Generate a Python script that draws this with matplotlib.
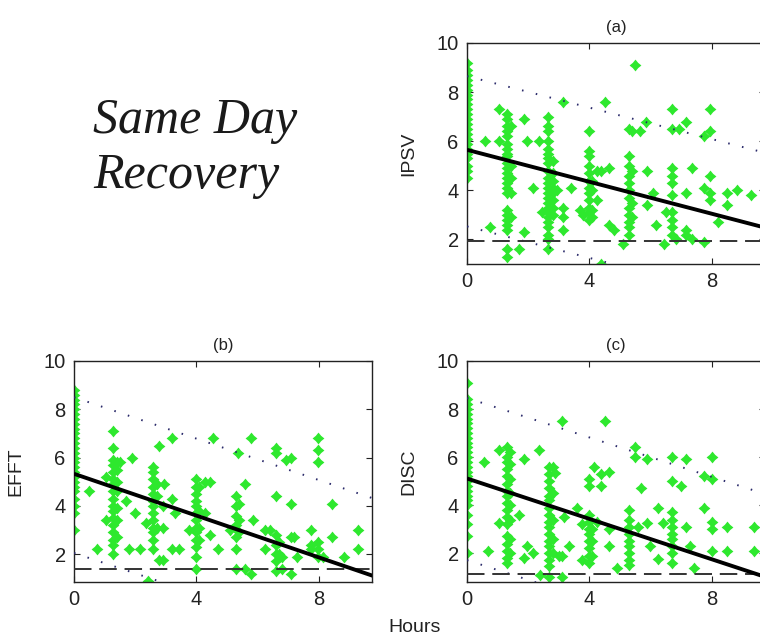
import matplotlib
matplotlib.use("Agg")
import matplotlib.pyplot as plt
from matplotlib.path import Path
import numpy as np

plt.rcParams['font.family'] = ['Liberation Sans Narrow', 'Liberation Sans', 'DejaVu Sans']

# ---------------- data (hours -> scores) ----------------
ipsv_cols = [
    (0.0, [9.2, 8.9, 8.7, 8.5, 8.3, 8.1, 7.9, 7.7, 7.5, 7.3, 7.1, 6.9, 6.7, 6.5, 6.3,
           6.1, 5.9, 5.7, 5.5, 5.3, 5.0, 4.8, 4.5]),
    (0.6, [6.0]), (0.75, [2.5]), (1.05, [7.3, 6.0]),
    (1.3, [7.1, 6.9, 6.6, 6.4, 6.2, 5.9, 5.7, 5.5, 5.4, 5.1, 4.9, 4.7, 4.5, 4.3, 4.1,
           3.9, 3.2, 3.0, 2.8, 2.6, 2.4, 1.6, 1.3]),
    (1.45, [6.6, 5.0, 4.5, 3.9, 2.9]), (1.7, [1.6]), (1.85, [6.9, 2.3]), (1.95, [6.0]),
    (2.15, [4.1]), (2.35, [6.0]), (2.45, [3.1]),
    (2.65, [7.0, 6.6, 6.4, 6.0, 5.7, 5.5, 5.3, 5.1, 4.8, 4.5, 4.3, 4.1, 3.9, 3.7, 3.5,
            3.3, 3.1, 2.9, 2.7, 2.5, 2.2, 2.0, 1.6]),
    (2.8, [5.2, 4.7, 4.4, 4.1, 3.9, 3.6, 3.3, 3.0]), (2.95, [4.0]),
    (3.15, [7.6, 3.3, 2.9, 2.4]), (3.4, [4.1]), (3.7, [3.2]), (3.8, [3.0]),
    (3.98, [6.4, 5.6, 5.4, 5.0, 4.7, 4.4, 4.1, 3.9, 3.6, 3.3, 3.1, 2.8]),
    (4.1, [4.4, 4.0, 3.2, 2.9]), (4.25, [4.8, 3.6]), (4.4, [4.8, 1.0]), (4.5, [7.6]),
    (4.65, [4.9, 2.6]), (4.8, [2.4]), (5.1, [1.8]),
    (5.3, [6.5, 5.4, 5.0, 4.6, 4.3, 4.0, 3.7, 3.3, 3.0, 2.7, 2.5, 2.2]),
    (5.4, [6.4, 4.8, 3.5, 2.9]), (5.5, [9.1]), (5.65, [6.4]), (5.85, [6.8]),
    (5.9, [4.8, 3.4]), (6.1, [3.9]), (6.2, [2.6]), (6.45, [1.8]), (6.5, [3.1]),
    (6.7, [7.3, 6.5, 4.9, 4.6, 4.3, 3.8, 3.1, 2.8, 2.5, 2.2]), (6.85, [2.0]),
    (6.95, [6.5]), (7.15, [6.8, 3.9, 2.4, 2.2]), (7.35, [4.9, 2.0]),
    (7.75, [6.2, 4.1, 1.9]), (7.95, [7.3, 6.4, 4.6, 3.9, 3.6]), (8.2, [2.7]),
    (8.5, [3.9, 3.4]), (8.85, [4.0]), (9.3, [3.8]),
]

efft_cols = [
    (0.0, [8.8, 8.6, 8.4, 8.2, 8.0, 7.8, 7.6, 7.4, 7.2, 7.0, 6.8, 6.6, 6.4, 6.2, 6.0,
           5.8, 5.6, 5.4, 5.2, 5.0, 4.8, 4.6, 4.3, 4.0, 3.7, 3.0]),
    (0.5, [4.6]), (0.75, [2.2]), (1.05, [5.2, 3.4]),
    (1.28, [7.1, 6.4, 5.9, 5.7, 5.4, 5.1, 4.9, 4.6, 4.3, 4.0, 3.8, 3.5, 3.2, 2.9, 2.6,
            2.4, 2.0]),
    (1.4, [5.8, 5.5, 5.0, 4.6, 3.9, 3.4, 2.7]), (1.5, [5.8]), (1.7, [4.2]),
    (1.8, [2.2]), (1.9, [6.0]), (2.0, [3.7]), (2.15, [2.2]), (2.35, [3.3]), (2.43, [0.9]),
    (2.6, [5.6, 5.4, 5.1, 4.8, 4.5, 4.2, 4.0, 3.7, 3.4, 3.1, 2.9, 2.6, 2.2]),
    (2.7, [4.9, 4.4, 3.1]), (2.78, [6.5, 1.75]), (2.9, [4.0, 3.1, 1.75]), (2.95, [4.9]),
    (3.2, [6.8, 4.3, 2.2]), (3.3, [3.7]), (3.45, [2.2]), (3.75, [3.0]),
    (3.98, [5.1, 4.8, 4.5, 4.2, 4.0, 3.7, 3.4, 3.1, 2.9, 2.6, 2.3, 1.9, 1.4]),
    (4.1, [4.8, 3.8, 3.1, 2.6]), (4.3, [5.0, 3.7]), (4.45, [5.0, 2.8]), (4.55, [6.8]),
    (4.7, [2.2]), (5.1, [3.0]), (5.3, [4.4, 4.0, 3.6, 3.2, 2.7, 2.2, 1.4]),
    (5.35, [6.2]), (5.4, [4.1, 3.4, 2.9]), (5.6, [4.9, 1.4]), (5.8, [6.8, 1.2]),
    (5.85, [3.4]), (6.25, [3.0, 2.2]), (6.4, [3.0]),
    (6.6, [6.4, 6.2, 4.4, 2.8, 2.4, 2.0, 1.7, 1.3]), (6.7, [2.5, 2.0]),
    (6.8, [1.9, 1.4]), (6.95, [5.9]), (7.1, [6.0, 4.1, 2.7, 1.2]), (7.2, [2.7]),
    (7.3, [1.9]), (7.75, [3.0, 2.4, 2.2]), (7.98, [6.8, 6.3, 5.8, 2.5, 2.2, 1.9]),
    (8.15, [1.9]), (8.45, [4.1, 2.7]), (8.85, [1.9]), (9.3, [3.0, 2.2]),
]

disc_cols = [
    (0.0, [9.1, 8.4, 8.2, 8.0, 7.8, 7.6, 7.4, 7.2, 7.0, 6.8, 6.6, 6.4, 6.2, 6.0, 5.8,
           5.6, 5.4, 5.2, 5.0, 4.8, 4.6, 4.4, 4.2, 4.0, 3.6, 3.2, 2.7, 2.0]),
    (0.55, [5.8]), (0.7, [2.1]), (1.05, [6.3, 3.25]),
    (1.3, [6.4, 6.0, 5.8, 5.5, 5.2, 4.9, 4.6, 4.4, 4.1, 3.8, 3.5, 3.2, 2.7, 2.4, 2.1,
           1.8, 1.6]),
    (1.4, [6.2, 5.7, 5.1, 4.5, 4.0, 3.4, 2.6, 2.0]), (1.7, [3.6]), (1.85, [5.9, 1.8]),
    (1.95, [2.3]), (2.15, [2.0]), (2.35, [6.3]), (2.4, [1.1]),
    (2.68, [5.6, 5.3, 5.0, 4.7, 4.4, 4.2, 3.9, 3.6, 3.3, 3.1, 2.8, 2.5, 2.3, 2.0, 1.7,
            1.45, 1.0]),
    (2.8, [5.6, 4.5, 3.4, 2.6, 2.0]), (2.87, [5.35]), (3.0, [1.9]),
    (3.12, [7.5, 1.9, 1.0]), (3.17, [3.5]), (3.35, [2.3]), (3.6, [3.9]), (3.77, [3.2, 1.7]),
    (3.98, [5.1, 4.8, 3.6, 3.3, 3.0, 2.8, 2.5, 2.2, 1.9, 1.6]),
    (4.1, [3.0, 2.5, 1.9]), (4.17, [5.6]), (4.25, [3.3]), (4.37, [5.3, 4.8]), (4.51, [7.5]),
    (4.65, [5.4, 3.0, 2.3]), (4.9, [1.4]),
    (5.3, [3.8, 3.4, 3.1, 2.8, 2.5, 2.3, 2.0, 1.7, 1.5]),
    (5.5, [6.4, 6.0]), (5.6, [3.1]), (5.7, [4.7]), (5.9, [5.9, 3.25]), (6.0, [2.3]),
    (6.25, [3.9, 1.75]), (6.4, [3.25]),
    (6.72, [6.0, 5.0, 3.7, 3.4, 3.1, 2.8, 2.6, 2.3, 2.0, 1.6]),
    (7.0, [4.8]), (7.16, [5.9, 3.1]), (7.3, [2.3]), (7.43, [1.4]), (7.76, [5.2, 3.9]),
    (8.0, [6.0, 5.1, 3.3, 3.0, 2.1]), (8.5, [3.1, 2.1]), (9.4, [3.1, 2.1]),
]

# fitted line, prediction band (upper, lower) and threshold: value at 0 h and at 10 h
ipsv_fit = [5.65, 2.40]
ipsv_upper = [8.65, 5.45]
ipsv_lower = [2.53, -0.67]
ipsv_threshold = 1.95

efft_fit = [5.33, 1.01]
efft_upper = [8.50, 4.22]
efft_lower = [2.05, -2.15]
efft_threshold = 1.38

disc_fit = [5.11, 0.91]
disc_upper = [8.46, 4.36]
disc_lower = [1.71, -2.39]
disc_threshold = 1.15

panel_titles = ['(a)', '(b)', '(c)']
panel_ylabels = ['IPSV', 'EFFT', 'DISC']
x_ticks = [0, 4, 8]
y_ticks = [2, 4, 6, 8, 10]
line_hours = [0, 10]

# ---------------- drawing ----------------
W, H = 760, 644
fig = plt.figure(figsize=(W / 100, H / 100), dpi=100)

def frac(l, t, r, b):
    return [l / W, 1 - b / H, (r - l) / W, (b - t) / H]

positions = [frac(467, 43, 765, 264), frac(74, 361, 372, 582), frac(467, 361, 765, 582)]
ylims = [(1.0, 10), (0.85, 10), (0.8, 10)]

star = Path([(0, 1), (0.45, 0.45), (1, 0), (0.45, -0.45), (0, -1), (-0.45, -0.45),
             (-1, 0), (-0.45, 0.45), (0, 1)], closed=True)

panels = [
    (ipsv_cols, ipsv_fit, ipsv_upper, ipsv_lower, ipsv_threshold),
    (efft_cols, efft_fit, efft_upper, efft_lower, efft_threshold),
    (disc_cols, disc_fit, disc_upper, disc_lower, disc_threshold),
]

for i, (cols, fit, up, lo, thr) in enumerate(panels):
    ax = fig.add_axes(positions[i])
    xs = np.concatenate([[h] * len(v) for h, v in cols])
    ys = np.concatenate([v for h, v in cols])
    ax.plot(xs, ys, linestyle='none', marker=star, markersize=8.5,
            color='#2ee82e', markeredgewidth=0, zorder=2)
    ax.plot(line_hours, fit, color='black', lw=2.8, zorder=4, solid_capstyle='butt')
    ax.plot(line_hours, up, color='#2a2a6a', lw=1.4, linestyle=(0, (0.8, 6.5)), zorder=3)
    ax.plot(line_hours, lo, color='#2a2a6a', lw=1.4, linestyle=(0, (0.8, 6.5)), zorder=3)
    ax.plot(line_hours, [thr, thr], color='#333333', lw=1.4, linestyle=(0, (9, 4)), zorder=3)
    ax.set_xlim(0, 9.75)
    ax.set_ylim(*ylims[i])
    ax.set_xticks(x_ticks)
    ax.set_yticks(y_ticks)
    ax.tick_params(direction='in', top=True, right=True, length=4, width=0.8,
                   labelsize=14.5, pad=6, colors='#222222', labelcolor='#222222')
    for s in ax.spines.values():
        s.set_linewidth(1.0)
        s.set_color('#222222')
    ax.set_title(panel_titles[i], fontsize=12, pad=8, color='#222222')
    ax.set_ylabel(panel_ylabels[i], fontsize=14, labelpad=14, color='#222222',
                  family=['Liberation Sans', 'DejaVu Sans'])

fig.text(415 / W, 1 - 628 / H, 'Hours', ha='center', va='center', fontsize=14,
         color='#222222', family=['Liberation Sans', 'DejaVu Sans'])
fig.text(93 / W, 1 - 133 / H, 'Same Day', ha='left', va='baseline', fontsize=36,
         style='italic', family=['Liberation Serif', 'DejaVu Serif'], color='#1a1a1a')
fig.text(93 / W, 1 - 188 / H, 'Recovery', ha='left', va='baseline', fontsize=36,
         style='italic', family=['Liberation Serif', 'DejaVu Serif'], color='#1a1a1a')

fig.savefig('out.png', dpi=100)
